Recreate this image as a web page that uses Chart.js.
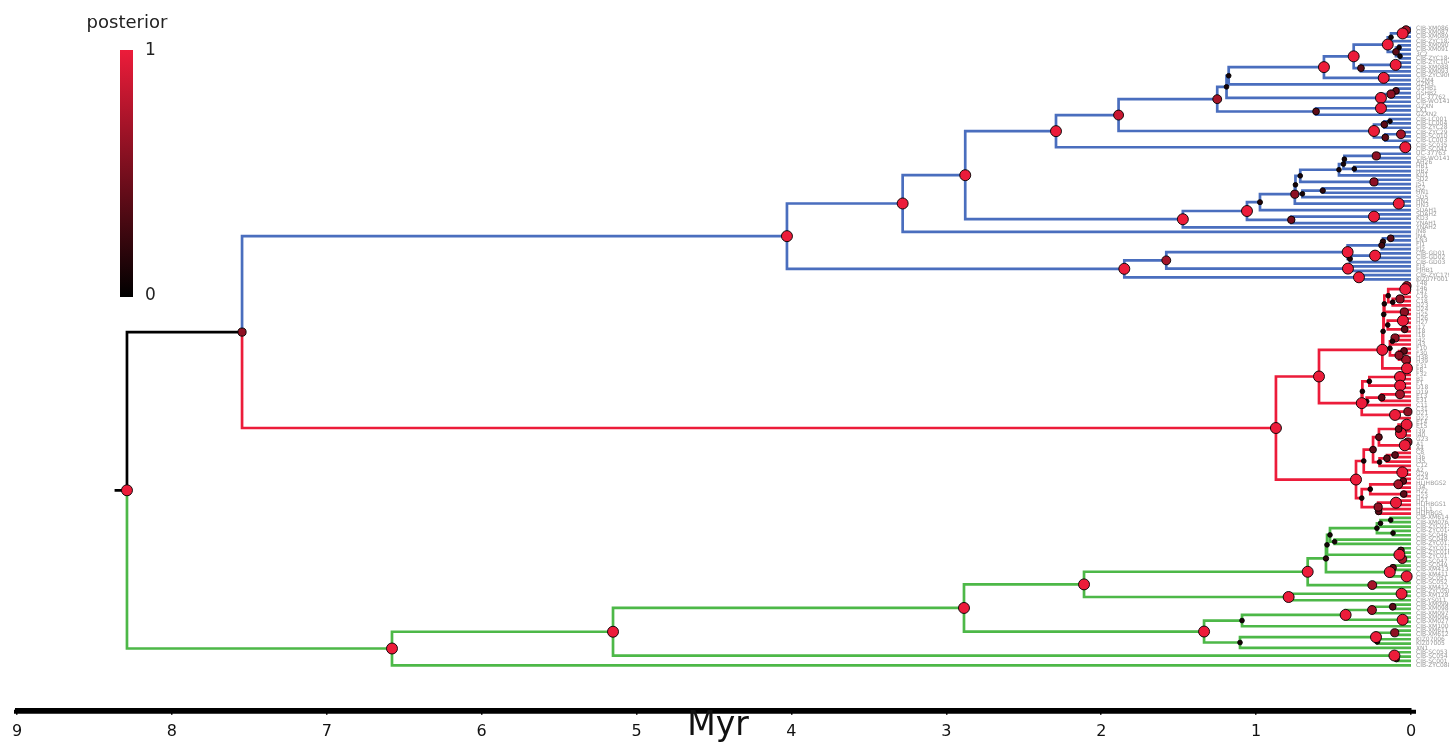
<!DOCTYPE html>
<html><head><meta charset="utf-8">
<script src="https://cdn.jsdelivr.net/npm/chart.js@4.4.1/dist/chart.umd.min.js"></script>
<style>html,body{margin:0;padding:0;background:#fff;overflow:hidden}#wrap{width:1449px;height:744px}</style>
</head><body><div id="wrap"><canvas id="c" width="1449" height="744"></canvas></div>
<script>
// ---- Data: node = [age (Myr), posterior, child, child]; leaf = tip index ----
const blueTips = ["CIB-XM086","CIB-XM087","CIB-XM089","CIB-ZYC182","CIB-XM090","CIB-XM091","3C2","CIB-ZYC184","CIB-ZYC104","CIB-XM088","CIB-XM093","CIB-ZYC906","GZM4","GZM3","GSHB1","GSHB2","UC-37762","CIB-WO1411","GZXN","LX1","GZXN2","CIB-LC001","CIB-LC004","CIB-ZYC28","CIB-ZYC29","CIB-SC010","CIB-LC003","CIB-SC035","CIB-SC041","UC-37763","CIB-WO1412","AH26","HB1","HB2","KD1","SD2","JS1","JS2","HN1","SD5","HN2","HN3","SDAH1","SDAH2","KD3","YNAH1","YNAH2","JN8","JN4","LN3","FJ1","FJ2","CIB-GD01","CIB-GD02","CIB-GD03","FJ3","FJHB1","CIB-ZYC179","KIZ07F001"];
const redTips = ["T48","T46","T47","C16","C18","D23","D24","H25","H26","H27","I17","I18","I16","I42","I43","F10","F30","H38","H39","F31","F8","F32","B1","F1","D18","D19","E13","E31","C11","C31","D21","D22","E14","E15","I39","I40","G23","A1","A4","C8","I36","I35","C12","A2","G29","G24","HLJHBGS2","I34","H22","H23","H21","HLJHBGS1","HLJL1","HLJHBGS"];
const greenTips = ["CIB-XM614","CIB-XM076","CIB-ZYC015","CIB-ZYC014","CIB-SC046","CIB-SC048","CIB-ZYC013","CIB-ZYC012","CIB-ZYC016","CIB-ZYC017","CIB-SC047","CIB-SC049","CIB-XM413","CIB-XM411","CIB-SC051","CIB-SC052","CIB-XM412","CIB-ZYC050","CIB-XM128","CIB-YS011","CIB-XM099","CIB-XM098","CIB-XM097","CIB-XM096","CIB-XM027","CIB-XM100","CIB-XM611","CIB-XM612","KIZ07006","KIZ07005","XN1","CIB-SC053","CIB-SC054","CIB-SC001","CIB-ZYC088"];

const blueClade = [4.029, 1.0,
  [3.282, 1.0,
    [2.878, 1.0,
      [2.292, 1.0,
        [1.888, 0.85,
          [1.251, 0.7,
            [1.191, 0.1,
              [1.177, 0.1,
                [0.562, 1.0,
                  [0.370, 1.0,
                    [0.150, 1.0,
                      [0.129, 0.1, [0.054, 1.0, [0.032, 0.7, 0, 1], 2], 3],
                      [0.097, 0.4, [0.077, 0.1, 4, 5], [0.071, 0.1, 6, 7]]],
                    [0.323, 0.4, [0.099, 1.0, 8, 9], 10]],
                  [0.176, 1.0, 11, 12]],
                13],
              [0.194, 1.0, [0.129, 0.6, [0.097, 0.4, 14, 15], 16], 17]],
            [0.613, 0.4, [0.194, 1.0, 18, 19], 20]],
          [0.239, 1.0,
            [0.172, 0.4, [0.136, 0.1, 21, 22], 23],
            [0.166, 0.4, [0.065, 0.7, 24, 25], 26]]],
        [0.037, 1.0, 27, 28]],
      [1.473, 1.0,
        [1.059, 1.0,
          [0.975, 0.15,
            [0.750, 0.6,
              [0.746, 0.1,
                [0.715, 0.1,
                  [0.465, 0.1, [0.436, 0.1, [0.430, 0.1, [0.224, 0.6, 29, 30], 31], [0.366, 0.1, 32, 33]], 34],
                  [0.239, 0.6, 35, 36]],
                [0.701, 0.1, [0.570, 0.2, 37, 38], 39]],
              [0.079, 1.0, 40, 41]],
            42],
          [0.773, 0.5, [0.239, 1.0, 43, 44], 45]],
        46]],
    47],
  [1.851, 1.0,
    [1.580, 0.7,
      [0.409, 1.0,
        [0.189, 0.3, [0.181, 0.2, [0.131, 0.4, 48, 49], 50], 51],
        [0.394, 0.15, [0.232, 1.0, 52, 53], 54]],
      [0.407, 1.0, 55, 56]],
    [0.336, 1.0, 57, 58]]];

const redClade = [0.872, 1.0,
  [0.594, 1.0,
    [0.185, 1.0,
      [0.180, 0.1,
        [0.176, 0.1,
          [0.172, 0.1,
            [0.147, 0.1, [0.037, 1.0, [0.028, 0.7, 59, 60], 61], [0.118, 0.1, [0.071, 0.6, 62, 63], 64]],
            [0.043, 0.6, 65, 66]],
          [0.150, 0.1, [0.052, 1.0, 67, 68], [0.041, 0.4, 69, 70]]],
        [0.136, 0.1,
          [0.120, 0.1, [0.103, 0.6, 71, 72], 73],
          [0.077, 0.6, [0.045, 0.4, 74, 75], [0.032, 0.7, 76, 77]]]],
      [0.026, 1.0, 78, 79]],
    [0.318, 1.0,
      [0.314, 0.1,
        [0.269, 0.1, [0.071, 1.0, 80, 81], [0.070, 1.0, 82, 83]],
        [0.286, 0.1, [0.189, 0.4, [0.071, 0.7, 84, 85], 86], 87]],
      [0.103, 1.0, [0.020, 0.6, 88, 89], 90]]],
  [0.355, 1.0,
    [0.305, 0.1,
      [0.245, 0.4,
        [0.207, 0.4, [0.080, 0.4, [0.028, 1.0, 91, 92], [0.065, 1.0, 93, 94]], [0.040, 1.0, [0.020, 0.6, 95, 96], 97]],
        [0.203, 0.1, [0.155, 0.4, [0.103, 0.4, 98, 99], 100], 101]],
      [0.056, 1.0, 102, 103]],
    [0.318, 0.1,
      [0.263, 0.1, [0.082, 0.7, [0.050, 0.4, 104, 105], 106], [0.047, 0.4, 107, 108]],
      [0.212, 0.6, [0.097, 1.0, 109, 110], [0.209, 0.4, 111, 112]]]]];

const greenClade = [6.579, 1.0,
  [5.152, 1.0,
    [2.886, 1.0,
      [2.111, 1.0,
        [0.667, 1.0,
          [0.549, 0.2,
            [0.542, 0.1,
              [0.523, 0.1,
                [0.220, 0.1, [0.197, 0.1, [0.131, 0.1, 113, 114], 115], [0.116, 0.1, 116, 117]],
                [0.493, 0.1, 118, 119]],
              [0.075, 1.0, [0.065, 0.4, 120, 121], [0.056, 0.7, 122, 123]]],
            [0.137, 1.0, [0.116, 0.4, 124, 125], [0.028, 1.0, 126, 127]]],
          [0.250, 0.7, 128, 129]],
        [0.790, 1.0, [0.061, 1.0, 130, 131], 132]],
      [1.336, 1.0,
        [1.091, 0.1,
          [0.422, 1.0, [0.252, 0.7, [0.118, 0.4, 133, 134], 135], [0.054, 1.0, 136, 137]],
          138],
        [1.104, 0.1,
          [0.226, 1.0, [0.105, 0.6, 139, 140], [0.218, 0.2, 141, 142]],
          143]]],
    [0.107, 1.0, 144, [0.094, 0.3, 145, 146]]],
  147];

const stemNode = [7.547, 0.6, blueClade, redClade];
const rootNode = [8.290, 1.0, stemNode, greenClade];
const rootEdge = 0.08;
const xTicks = [9, 8, 7, 6, 5, 4, 3, 2, 1, 0];
const tipLabels = blueTips.concat(redTips, greenTips);

// ---- Styling ----
const COLORS = {black: '#000000', blue: '#4A6EBE', red: '#EC1C3A', green: '#4DB848'};
const HI = [236, 28, 58];
function postColor(p){ return `rgb(${Math.round(HI[0]*p)},${Math.round(HI[1]*p)},${Math.round(HI[2]*p)})`; }
function postRadius(p){ return 2 + 3.5*p; }

// ---- Tree layout ----
const segs = {black: [], blue: [], red: [], green: []};
const nodePts = [];
function colorOf(kid, inherited){
  if (kid === blueClade) return 'blue';
  if (kid === redClade) return 'red';
  if (kid === greenClade) return 'green';
  if (kid === stemNode) return 'black';
  return inherited;
}
function build(node, color){
  if (typeof node === 'number') return {y: node, age: 0};
  const age = node[0], post = node[1], kids = node.slice(2);
  const res = kids.map(k => build(k, colorOf(k, color)));
  const y = (res[0].y + res[res.length - 1].y) / 2;
  res.forEach((r, i) => {
    segs[colorOf(kids[i], color)].push({x: age, y: y}, {x: age, y: r.y}, {x: r.age, y: r.y}, {x: r.age, y: null});
  });
  nodePts.push({x: age, y: y, p: post});
  return {y, age};
}
const rootPos = build(rootNode, 'black');
segs.black.push({x: rootNode[0] + rootEdge, y: rootPos.y}, {x: rootNode[0], y: rootPos.y}, {x: rootNode[0], y: null});

const lineSets = ['black', 'blue', 'red', 'green'].map(k => ({
  type: 'line', data: segs[k], borderColor: COLORS[k], borderWidth: 2.7, pointRadius: 0,
  spanGaps: false, tension: 0, borderJoinStyle: 'miter', borderCapStyle: 'butt', order: 2, clip: false
}));
const nodeSet = {
  type: 'scatter', data: nodePts.map(n => ({x: n.x, y: n.y})), order: 0, clip: false,
  pointRadius: nodePts.map(n => postRadius(n.p)),
  pointBackgroundColor: nodePts.map(n => postColor(n.p)),
  pointBorderColor: '#000', pointBorderWidth: 0.9, pointHoverRadius: nodePts.map(n => postRadius(n.p))
};

const extras = {
  id: 'extras',
  afterDatasetsDraw(chart){
    const ctx = chart.ctx, xs = chart.scales.x, ys = chart.scales.y;
    ctx.save();
    // tip labels
    ctx.fillStyle = '#9a9a9a'; ctx.font = '6px "DejaVu Sans"'; ctx.textBaseline = 'middle'; ctx.textAlign = 'left';
    tipLabels.forEach((t, i) => ctx.fillText(t, xs.getPixelForValue(0) + 5, ys.getPixelForValue(i)));
    // colour bar
    const bx = 120, bw = 13, by0 = 50, by1 = 297;
    const g = ctx.createLinearGradient(0, by0, 0, by1);
    g.addColorStop(0, postColor(1)); g.addColorStop(1, postColor(0));
    ctx.fillStyle = g; ctx.fillRect(bx, by0, bw, by1 - by0);
    ctx.fillStyle = '#222'; ctx.font = '17px "DejaVu Sans"'; ctx.textAlign = 'left'; ctx.textBaseline = 'middle';
    ctx.fillText('1', bx + bw + 12, by0 + 1); ctx.fillText('0', bx + bw + 12, by1 - 1);
    ctx.textAlign = 'center'; ctx.font = '18px "DejaVu Sans"'; ctx.fillText('posterior', 127, 23);
    // axis line extension (matches the longer axis bar of the reference)
    ctx.strokeStyle = '#000'; ctx.lineWidth = 4;
    ctx.beginPath(); ctx.moveTo(xs.left - 3, xs.top + 2); ctx.lineTo(xs.right + 5, xs.top + 2); ctx.stroke();
    // axis title
    ctx.fillStyle = '#111'; ctx.font = '33px "DejaVu Sans"'; ctx.textAlign = 'center'; ctx.textBaseline = 'middle';
    ctx.fillText('Myr', (xs.left + xs.right) / 2 + 4, 726);
    ctx.restore();
  }
};

new Chart(document.getElementById('c'), {
  type: 'line',
  data: {datasets: [nodeSet, ...lineSets]},
  options: {
    responsive: false, animation: false, devicePixelRatio: 1,
    layout: {autoPadding: false, padding: {left: 17, right: 38, top: 0, bottom: -4}},
    plugins: {legend: {display: false}, tooltip: {enabled: false}},
    scales: {
      x: {type: 'linear', reverse: true, min: 0, max: 9,
          afterBuildTicks: s => { s.ticks = xTicks.map(v => ({value: v})); },
          ticks: {color: '#111', font: {family: 'DejaVu Sans', size: 16}, padding: 7, maxRotation: 0, autoSkip: false},
          grid: {display: true, drawOnChartArea: false, drawTicks: true, tickLength: 5, color: '#000', lineWidth: 1.5},
          border: {display: true, color: '#000', width: 4}},
      y: {type: 'linear', reverse: true, min: -6.466, max: 157.27, display: false}
    }
  },
  plugins: [extras]
});
</script></body></html>
